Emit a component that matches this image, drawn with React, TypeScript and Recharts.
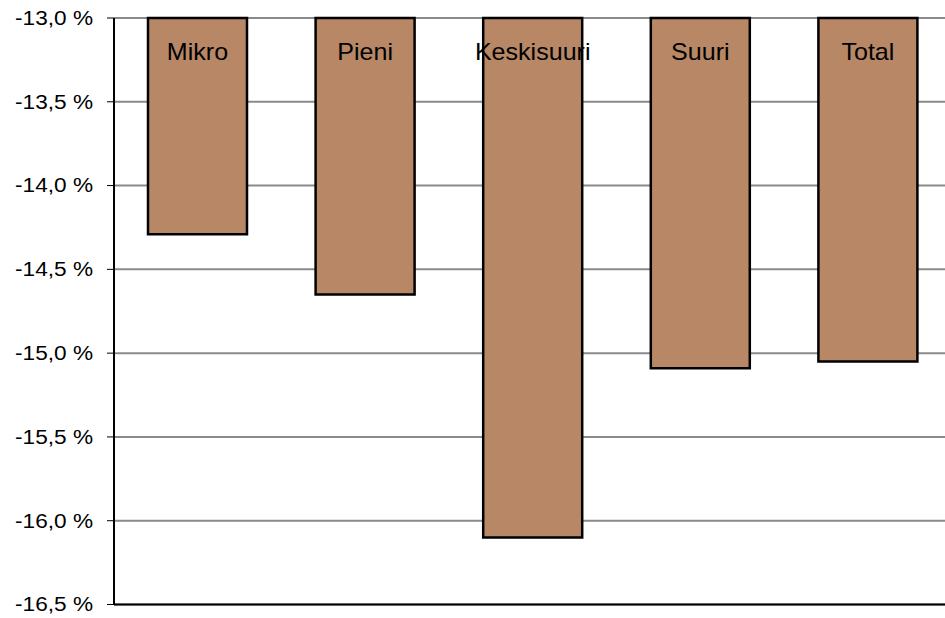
import React from 'react';
import {
  BarChart,
  Bar,
  XAxis,
  YAxis,
  CartesianGrid,
  ReferenceLine,
  LabelList,
} from 'recharts';

const categories = ['Mikro', 'Pieni', 'Keskisuuri', 'Suuri', 'Total'];
const change = [-14.29, -14.65, -16.1, -15.09, -15.05];
const yTicks = [-16.5, -16.0, -15.5, -15.0, -14.5, -14.0, -13.5, -13.0];
const separators = [1, 2, 3, 4];

const data = categories.map((name, i) => ({ name, value: change[i] }));

const font = '"Liberation Sans", Arial, sans-serif';

const fmtPct = (v: number) => `${v.toFixed(1).replace('.', ',')} %`;

// axis labels are set a little wide
const YTick = (props: any) => {
  const { x, y, payload } = props;
  return (
    <g transform={`translate(${x},${y})`}>
      <text
        transform="scale(1.16,1)"
        textAnchor="end"
        dy="0.355em"
        fontFamily={font}
        fontSize={19.5}
        fill="#000"
      >
        {fmtPct(payload.value)}
      </text>
    </g>
  );
};

// category name drawn inside the bar, just under the top edge
const NameLabel = (props: any) => {
  const { x, y, width, height, value } = props;
  const top = Math.min(y, y + height);
  return (
    <g transform={`translate(${x + width / 2},${top + 41.5})`}>
      <text
        transform="scale(1.09,1)"
        textAnchor="middle"
        fontFamily={font}
        fontSize={23}
        fill="#000"
      >
        {value}
      </text>
    </g>
  );
};

const App: React.FC = () => {
  return (
    <div
      style={{
        position: 'fixed',
        left: 0,
        top: 0,
        width: 945,
        height: 618,
        overflow: 'hidden',
        background: '#fff',
      }}
    >
      <BarChart
        width={960}
        height={618}
        data={data}
        margin={{ top: 18, right: 8, bottom: 13.5, left: 0 }}
        barSize={99}
      >
        <CartesianGrid vertical={false} stroke="#8a8a8a" strokeWidth={2} />
        <XAxis
          dataKey="name"
          orientation="top"
          height={0}
          tick={false}
          tickLine={false}
          axisLine={{ stroke: '#000', strokeWidth: 2 }}
        />
        <XAxis
          xAxisId="sep"
          type="number"
          domain={[0, 5]}
          ticks={separators}
          orientation="top"
          height={0}
          mirror
          tick={false}
          tickSize={6}
          tickLine={{ stroke: '#000', strokeWidth: 1 }}
          axisLine={false}
        />
        <YAxis
          type="number"
          domain={[-16.5, -13]}
          ticks={yTicks}
          width={114}
          tickSize={7}
          tickMargin={14}
          tick={<YTick />}
          tickLine={{ stroke: '#000', strokeWidth: 1 }}
          axisLine={{ stroke: '#000', strokeWidth: 2 }}
          interval={0}
        />
        <ReferenceLine y={-16.5} stroke="#000" strokeWidth={2} />
        <Bar
          dataKey="value"
          fill="#B78766"
          stroke="#000"
          strokeWidth={2.5}
          isAnimationActive={false}
        >
          <LabelList dataKey="name" content={NameLabel} />
        </Bar>
      </BarChart>
    </div>
  );
};

export default App;
